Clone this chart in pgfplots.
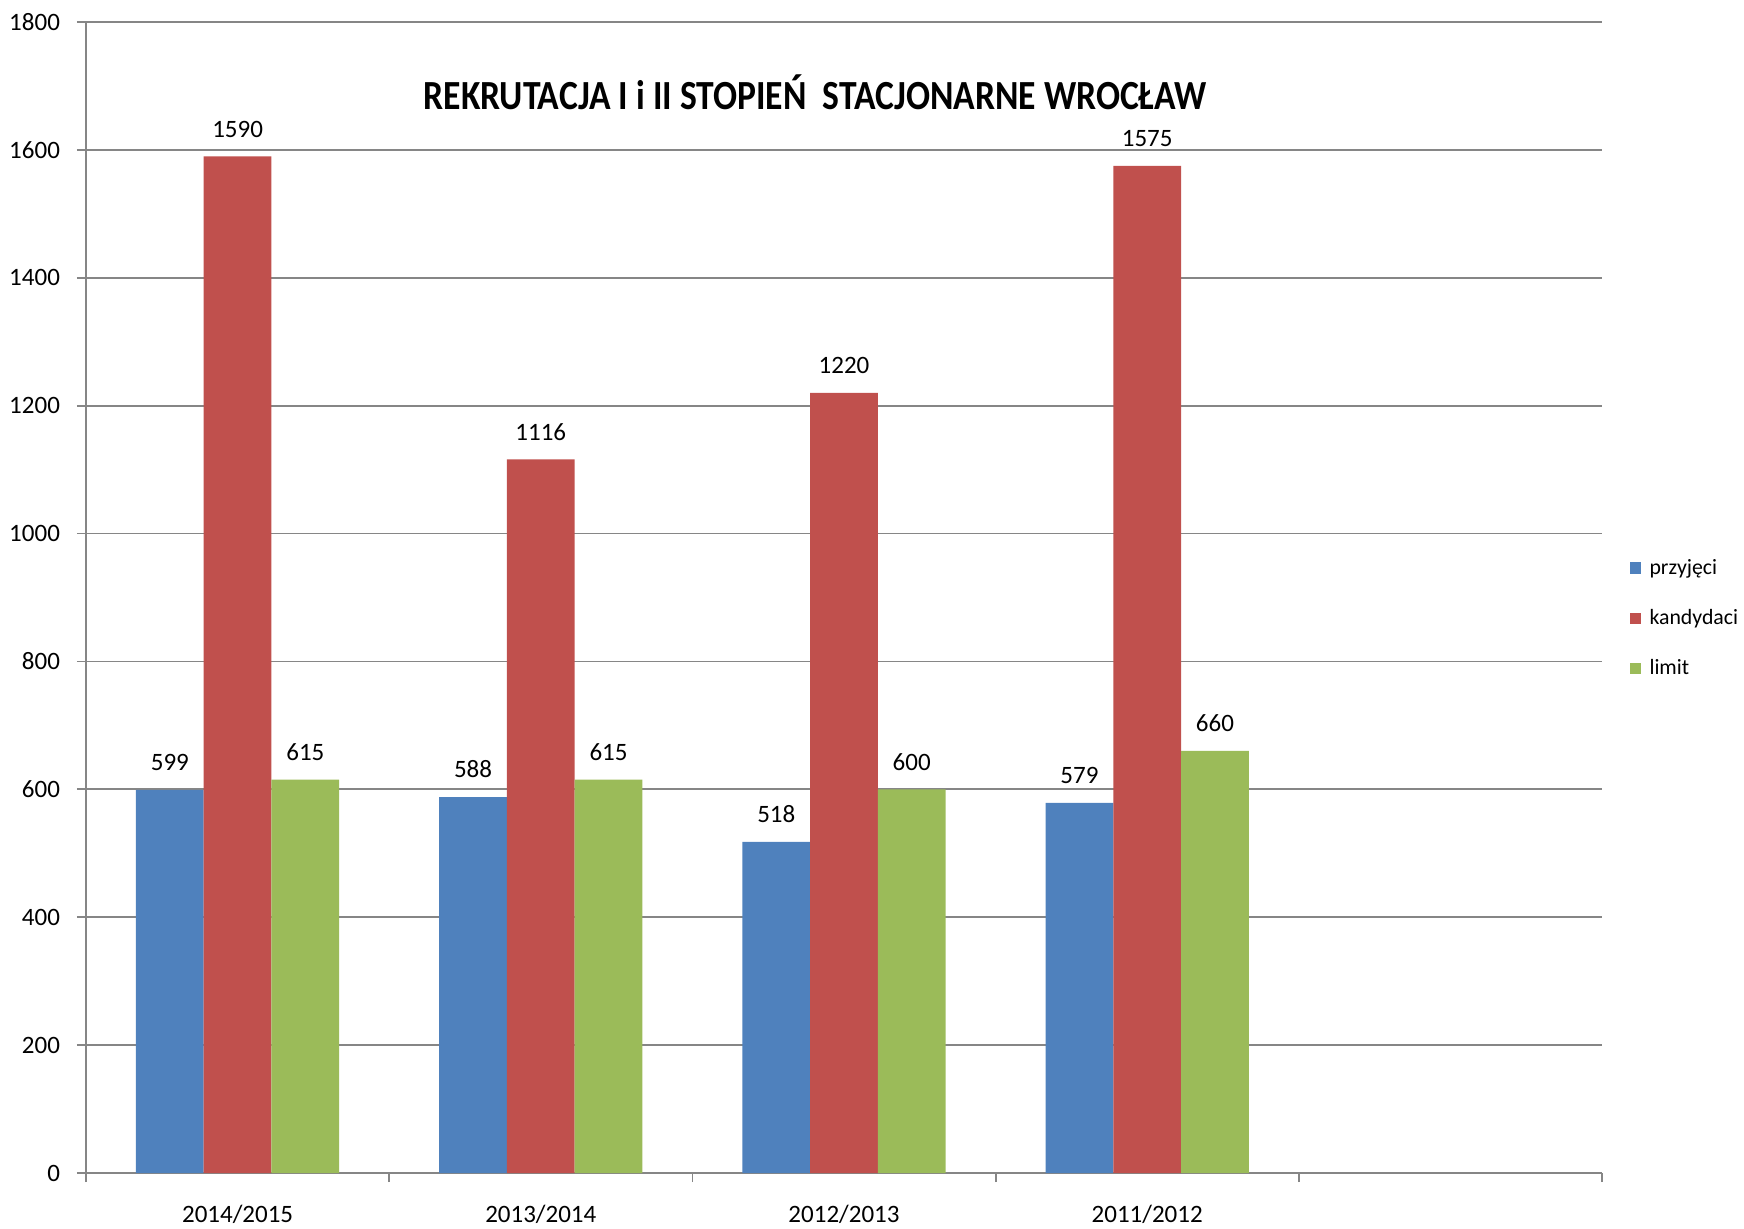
\documentclass[border=0pt]{standalone}
\usepackage{fontspec}
\setmainfont{Carlito}
\newfontfamily\titlefont[FakeStretch=0.86]{Carlito}
\usepackage{pgfplots}
\pgfplotsset{compat=1.18}
\usetikzlibrary{calc}

\definecolor{cBlue}{HTML}{4F81BD}
\definecolor{cRed}{HTML}{C0504D}
\definecolor{cGreen}{HTML}{9BBB59}
\definecolor{cGrid}{HTML}{868686}

\begin{document}
\begin{tikzpicture}
\begin{axis}[
  name=ax,
  scale only axis,
  width=758pt, height=575.5pt,
  xmin=-0.5, xmax=4.5,
  ymin=0, ymax=1800,
  ytick={0,200,...,1800},
  xtick={-0.5,0.5,...,4.5},
  x tick label as interval,
  xticklabels={2014/2015,2013/2014,2012/2013,2011/2012,{}},
  axis x line*=bottom,
  axis y line*=left,
  axis line style={cGrid, line width=0.9pt, -},
  ymajorgrids,
  grid style={cGrid, line width=0.9pt},
  tick align=outside,
  tick style={cGrid, line width=0.9pt},
  major tick length=4.5pt,
  font=\fontsize{12.5}{15}\selectfont,
  /pgf/number format/assume math mode=true,
  /pgf/number format/1000 sep={},
  yticklabel style={xshift=-5pt},
  xticklabel style={yshift=-8pt},
  ybar=0pt,
  bar width=0.2234,
  enlarge x limits=false,
  nodes near coords,
  nodes near coords style={font=\fontsize{12.5}{15}\selectfont, yshift=6pt, text=black},
  every axis plot/.append style={draw=none},
  legend style={
    at={(1.018,0.482)}, anchor=west,
    draw=none, fill=none,
    font=\fontsize{10.9}{12}\selectfont,
    row sep=12pt, inner xsep=0pt,
    cells={anchor=west},
  },
  legend image code/.code={\fill[#1] (0pt,-2.8pt) rectangle (5.4pt,2.8pt);},
  legend cell align=left,
]
\addplot[fill=cBlue] coordinates {(0,599) (1,588) (2,518) (3,579)};
\addplot[fill=cRed] coordinates {(0,1590) (1,1116) (2,1220) (3,1575)};
\addplot[fill=cGreen] coordinates {(0,615) (1,615) (2,600) (3,660)};
\legend{\hspace{2.5pt}przyjęci,\hspace{2.5pt}kandydaci,\hspace{2.5pt}limit}
\node[font=\titlefont\bfseries\fontsize{20.7}{24}\selectfont] at (rel axis cs:0.481,0.939)
  {REKRUTACJA I i II STOPIEŃ\ \ STACJONARNE WROCŁAW};
\end{axis}
\pgfresetboundingbox
\path ($(ax.south west)+(-43pt,-27.5pt)$) rectangle ($(ax.north east)+(71pt,11pt)$);
\end{tikzpicture}
\end{document}
